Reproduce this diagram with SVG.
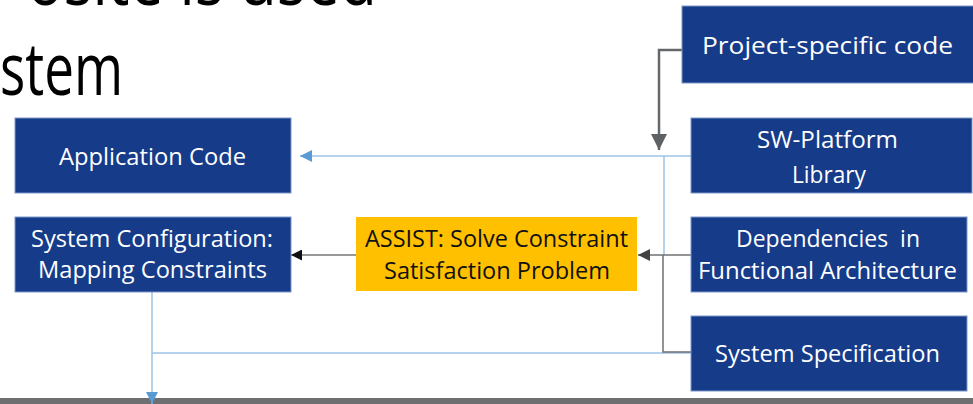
<svg xmlns="http://www.w3.org/2000/svg" width="973" height="404" viewBox="0 0 973 404">
<defs>
<style>
.box{fill:#163B89;stroke:#7D97C9;stroke-width:1}
.gold{fill:#FFC000}
.t{font-family:"Open Sans","Liberation Sans",sans-serif;font-size:23px;fill:#FFFFFF;text-anchor:middle}
.tk{font-family:"Open Sans","Liberation Sans",sans-serif;font-size:23px;fill:#111111;text-anchor:middle}
.big{font-family:"Open Sans","Liberation Sans",sans-serif;font-size:74px;fill:#000000}
.blue{fill:none;stroke:#9DC3E6;stroke-width:1.5}
.gray{fill:none;stroke:#6E7072;stroke-width:1.5}
.dgray{fill:none;stroke:#65686B;stroke-width:2.5}
.black{fill:none;stroke:#333333;stroke-width:1.2}
</style>
<marker id="aBlue" markerUnits="userSpaceOnUse" markerWidth="12" markerHeight="12" viewBox="0 0 12 12" refX="12" refY="6" orient="auto"><path d="M0,0 L12,6 L0,12 Z" fill="#5B9BD5"/></marker>
<marker id="aGray" markerUnits="userSpaceOnUse" markerWidth="12" markerHeight="12" viewBox="0 0 12 12" refX="12" refY="6" orient="auto"><path d="M0,0 L12,6 L0,12 Z" fill="#404244"/></marker>
<marker id="aDGray" markerUnits="userSpaceOnUse" markerWidth="16" markerHeight="16" viewBox="0 0 16 16" refX="16" refY="8" orient="auto"><path d="M0,0 L16,8 L0,16 Z" fill="#5F6265"/></marker>
<marker id="aBlack" markerUnits="userSpaceOnUse" markerWidth="11" markerHeight="11" viewBox="0 0 12 12" refX="12" refY="6" orient="auto"><path d="M0,0 L12,6 L0,12 Z" fill="#111111"/></marker>
</defs>
<rect x="0" y="0" width="973" height="404" fill="#FFFFFF"/>
<text class="big" x="27" y="5" textLength="350" lengthAdjust="spacingAndGlyphs">osite is used</text>
<text class="big" x="0" y="95" textLength="123" lengthAdjust="spacingAndGlyphs">stem</text>
<rect x="0" y="398" width="973" height="6" fill="#6D6F71"/>
<g id="connectors">
<path class="blue" d="M691,156 H300" marker-end="url(#aBlue)"/>
<path class="blue" d="M664,156 V255"/>
<path class="blue" d="M691,353 H152"/>
<path class="blue" d="M152,292 V404" marker-end="url(#aBlue)"/>
<path class="dgray" d="M682,50 H659 V150" marker-end="url(#aDGray)"/>
<path class="gray" d="M691,255 H638" marker-end="url(#aGray)"/>
<path class="gray" d="M691,352 H663 V255"/>
<path class="black" d="M356,255 H291" marker-end="url(#aBlack)"/>
</g>
<g id="project-specific-code">
<rect class="box" x="682" y="6" width="292" height="77"/>
<text class="t" x="827.5" y="54" font-size="26" textLength="251" lengthAdjust="spacingAndGlyphs">Project-specific code</text>
</g>
<g id="sw-platform-library">
<rect class="box" x="691" y="118" width="281" height="75"/>
<text class="t" x="827.5" y="148" textLength="141" lengthAdjust="spacingAndGlyphs">SW-Platform</text>
<text class="t" x="829" y="183" textLength="74" lengthAdjust="spacingAndGlyphs">Library</text>
</g>
<g id="application-code">
<rect class="box" x="15" y="118" width="276" height="75"/>
<text class="t" x="152.5" y="165" textLength="187" lengthAdjust="spacingAndGlyphs">Application Code</text>
</g>
<g id="system-configuration">
<rect class="box" x="15" y="217" width="276" height="75"/>
<text class="t" x="152" y="247" textLength="242" lengthAdjust="spacingAndGlyphs">System Configuration:</text>
<text class="t" x="152.5" y="278" textLength="229" lengthAdjust="spacingAndGlyphs">Mapping Constraints</text>
</g>
<g id="assist">
<rect class="gold" x="356" y="217" width="281" height="74"/>
<text class="tk" x="496.5" y="247" textLength="263" lengthAdjust="spacingAndGlyphs">ASSIST: Solve Constraint</text>
<text class="tk" x="497" y="279" textLength="226" lengthAdjust="spacingAndGlyphs">Satisfaction Problem</text>
</g>
<g id="dependencies">
<rect class="box" x="691" y="217" width="276" height="75"/>
<text class="t" x="828" y="247" textLength="184" lengthAdjust="spacingAndGlyphs" xml:space="preserve">Dependencies  in</text>
<text class="t" x="827.5" y="279" textLength="259" lengthAdjust="spacingAndGlyphs">Functional Architecture</text>
</g>
<g id="system-specification">
<rect class="box" x="691" y="316" width="276" height="75"/>
<text class="t" x="827.5" y="362" textLength="225" lengthAdjust="spacingAndGlyphs">System Specification</text>
</g>
</svg>
